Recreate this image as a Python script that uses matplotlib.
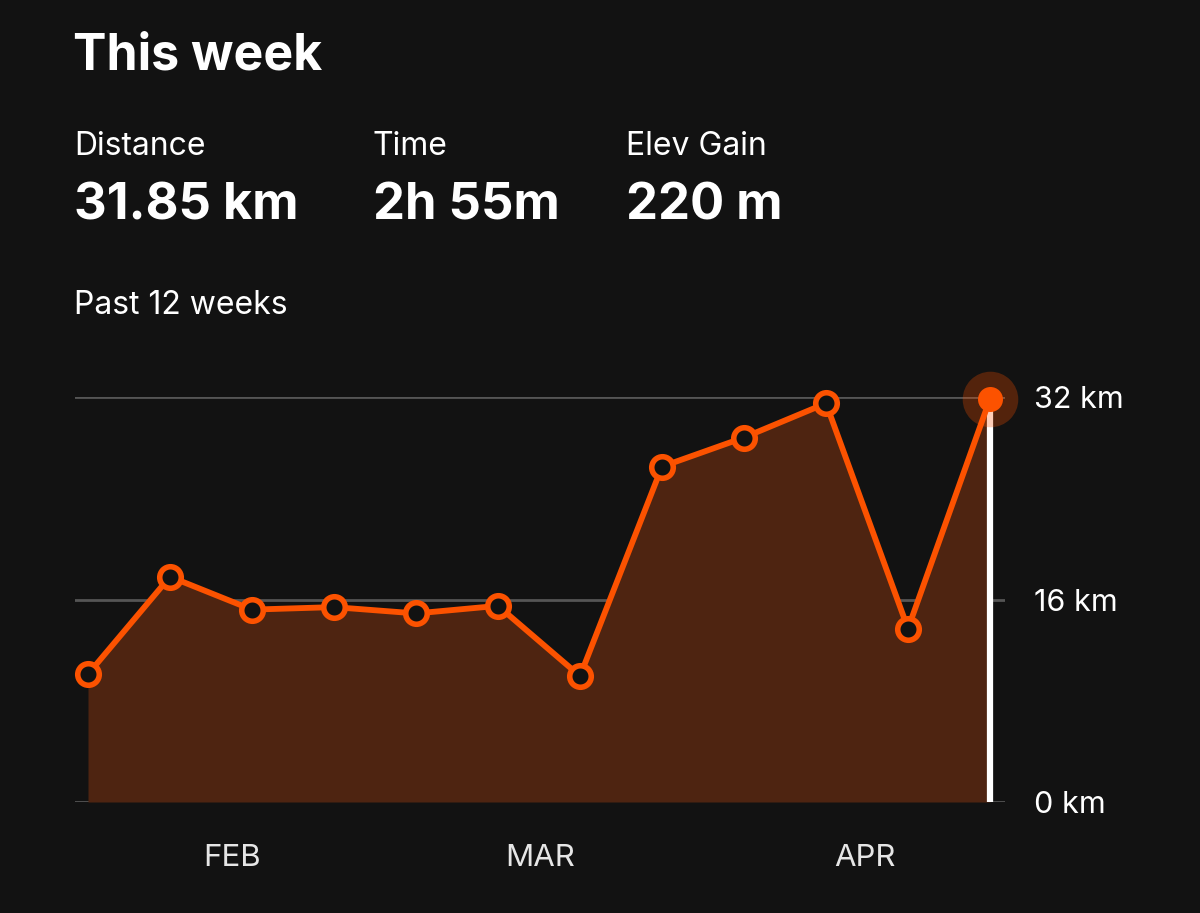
import matplotlib.pyplot as plt
import numpy as np

plt.rcParams['font.family'] = ['Inter', 'DejaVu Sans']

# weekly distance (km), past 12 weeks
weeks = np.arange(12)
distance_km = [10.1, 17.8, 15.2, 15.4, 14.9, 15.5, 9.95, 26.5, 28.8, 31.5, 13.7, 31.85]
month_pos = [1.76, 5.51, 9.48]
month_labels = ['FEB', 'MAR', 'APR']
y_ticks = [0, 16, 32]
y_labels = ['0 km', '16 km', '32 km']

stats = [('Distance', '31.85 km'), ('Time', '2h 55m'), ('Elev Gain', '220 m')]
stat_x = [74, 373, 626]

bg = '#121212'
orange = '#fc5200'
fill_col = '#4e2411'
grid_col = '#555555'

W, H = 1200, 913
fig = plt.figure(figsize=(W / 100, H / 100), dpi=100, facecolor=bg)

# header texts
fig.text(73 / W, 1 - 56 / H, 'This week', color='white', fontsize=36,
         fontweight='bold', va='center', ha='left')
for (lab, val), x in zip(stats, stat_x):
    fig.text(x / W, 1 - 146 / H, lab, color='white', fontsize=23, va='center')
    fig.text(x / W, 1 - 206 / H, val, color='white', fontsize=36.5,
             fontweight='bold', va='center')
fig.text(74 / W, 1 - 305 / H, 'Past 12 weeks', color='white', fontsize=23, va='center')

# chart axes
left, right = 75, 1005
y0, y32 = 802, 397
ax = fig.add_axes([left / W, 1 - y0 / H, (right - left) / W, (y0 - y32) / H])
ax.set_facecolor(bg)
px = (990 - 88) / 11
ax.set_xlim(-(88 - left) / px, 11 + (right - 990) / px)
ax.set_ylim(0, 32)

for t in y_ticks:
    ax.axhline(t, color=grid_col, lw=2, zorder=1)

ax.fill_between(weeks, distance_km, 0, color=fill_col, zorder=2, lw=0)
ax.plot([weeks[-1], weeks[-1]], [0, distance_km[-1]], color='white', lw=4.5,
        zorder=3, solid_capstyle='butt')
ax.plot(weeks, distance_km, color=orange, lw=4.2, zorder=4, clip_on=False)
ax.plot(weeks[:-1], distance_km[:-1], 'o', ms=15.5, mfc=bg, mec=orange, mew=4,
        zorder=5, clip_on=False)
# current week highlight
ax.plot(weeks[-1], distance_km[-1], 'o', ms=40, color=orange, alpha=0.28,
        mew=0, zorder=5, clip_on=False)
ax.plot(weeks[-1], distance_km[-1], 'o', ms=18, color=orange, mew=0,
        zorder=6, clip_on=False)

for s in ax.spines.values():
    s.set_visible(False)
ax.yaxis.tick_right()
ax.set_yticks(y_ticks)
ax.set_yticklabels(y_labels)
ax.set_xticks(month_pos)
ax.set_xticklabels(month_labels)
ax.tick_params(axis='y', length=0, pad=21, labelsize=22, labelcolor='white')
ax.tick_params(axis='x', length=0, pad=30, labelsize=22.5, labelcolor='#e6e6e6')

fig.savefig('out.png', dpi=100, facecolor=bg)
